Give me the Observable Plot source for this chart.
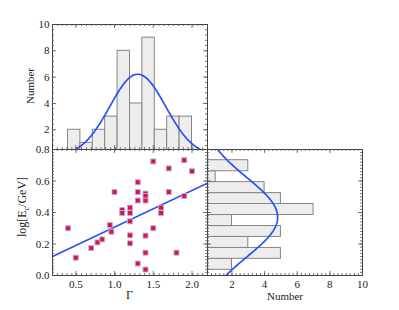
<!DOCTYPE html>
<html>
<head>
<meta charset="utf-8">
<script src="https://cdn.jsdelivr.net/npm/d3@7"></script>
<script src="https://cdn.jsdelivr.net/npm/@observablehq/plot@0.6"></script>
<style>
  body { margin: 0; background: #fff; }
  #chart { position: relative; width: 399px; height: 310px; overflow: hidden; }
  #chart svg { position: absolute; left: 0; top: 0; font-size: 11px; }
  #chart svg text { font-family: 'Liberation Serif', 'Times New Roman', serif; }
</style>
</head>
<body>
<div id="chart"></div>
<script>
// ---------------- data ----------------
const gamma = [0.40, 0.50, 0.70, 0.78, 0.84, 0.94, 0.96, 1.00, 1.10, 1.10,
               1.20, 1.20, 1.20, 1.20, 1.20, 1.30, 1.30, 1.30, 1.30, 1.40,
               1.40, 1.40, 1.40, 1.40, 1.40, 1.50, 1.50, 1.60, 1.60, 1.70,
               1.70, 1.80, 1.90, 1.90, 2.00];
const logEc = [0.300, 0.113, 0.174, 0.210, 0.229, 0.320, 0.278, 0.530, 0.416, 0.397,
               0.431, 0.397, 0.344, 0.255, 0.204, 0.592, 0.530, 0.476, 0.076, 0.520,
               0.505, 0.476, 0.253, 0.145, 0.038, 0.724, 0.300, 0.431, 0.397, 0.680,
               0.530, 0.145, 0.732, 0.505, 0.662];

// histogram of Gamma (top panel)
const gammaBinEdges = [0.40, 0.56, 0.72, 0.88, 1.04, 1.20, 1.36, 1.52, 1.68, 1.84, 2.00];
const gammaCounts   = [2, 1, 2, 3, 8, 4, 9, 2, 3, 3];

// histogram of log Ec (right panel), bottom to top
const ecBinEdges = [0.036, 0.106, 0.175, 0.245, 0.314, 0.384, 0.454, 0.523, 0.593, 0.662, 0.732];
const ecCounts   = [2, 5, 3, 5, 2, 7, 5, 4, 1, 3];

// fitted models
const fitIntercept = 0.074, fitSlope = 0.233;
const gammaFit = {mu: 1.30, sigma: 0.36, amp: 6.22};
const ecFit    = {mu: 0.37, sigma: 0.252, amp: 4.8};

// tick labels
const gammaTicks = [0.5, 1.0, 1.5, 2.0];
const ecTicks = [0.0, 0.2, 0.4, 0.6, 0.8];
const countTicks = [2, 4, 6, 8, 10];

// axis domains
const gammaDomain = [0.2, 2.2];
const ecDomain = [0, 0.8];
const countDomain = [0.5, 10];

// ---------------- layout ----------------
const W = 399, H = 310;
const xL = 52, xM = 207, xR = 362, yT = 24, yM = 149, yB = 275;
const serif = "'Liberation Serif', 'Times New Roman', serif";
const ink = "#222";
const frameColor = "#444";
const tickColor = "#555";
const blue = "#2f4ff2";
const barFill = "#ededed", barStroke = "#858585";

const baseStyle = {background: "transparent", fontFamily: serif, fontSize: "11px", color: ink, overflow: "visible"};
const txt = {fontFamily: serif, fontSize: 11, fill: ink};

const points = gamma.map((g, i) => ({g, e: logEc[i]}));
const gammaBins = gammaCounts.map((c, i) => ({x1: gammaBinEdges[i], x2: gammaBinEdges[i + 1], c}));
const ecBins = ecCounts.map((c, i) => ({y1: ecBinEdges[i], y2: ecBinEdges[i + 1], c}));

const range = (a, b, s) => d3.range(Math.round((b - a) / s) + 1).map(k => +(a + k * s).toFixed(6));
const within = (arr, dom) => arr.filter(v => v > dom[0] + 1e-9 && v < dom[1] - 1e-9);

// inward ticks on all four sides of a panel frame
function edgeTicks(xDom, yDom, innerW, innerH, xMaj, xMin, yMaj, yMin, sides = ["top", "bottom", "left", "right"]) {
  const px = (xDom[1] - xDom[0]) / innerW, py = (yDom[1] - yDom[0]) / innerH;
  const marks = [];
  const add = (vals, len, side) => {
    if (!vals.length) return;
    const o = {stroke: tickColor, strokeWidth: 0.8};
    if (side === "bottom") marks.push(Plot.ruleX(vals, {x: d => d, y1: yDom[0], y2: yDom[0] + len * py, ...o}));
    if (side === "top") marks.push(Plot.ruleX(vals, {x: d => d, y1: yDom[1], y2: yDom[1] - len * py, ...o}));
    if (side === "left") marks.push(Plot.ruleY(vals, {y: d => d, x1: xDom[0], x2: xDom[0] + len * px, ...o}));
    if (side === "right") marks.push(Plot.ruleY(vals, {y: d => d, x1: xDom[1], x2: xDom[1] - len * px, ...o}));
  };
  for (const s of sides) {
    if (s === "top" || s === "bottom") { add(within(xMin, xDom), 2, s); add(within(xMaj, xDom), 4, s); }
    else { add(within(yMin, yDom), 2, s); add(within(yMaj, yDom), 4, s); }
  }
  return marks;
}

const gammaMinor = range(0.2, 2.2, 0.0625);
const ecMinor = range(0, 0.8, 0.02);
const countMinorTop = range(0.4, 10, 0.4);
const countMinorRight = range(0.5, 10, 0.25);
const countMajor = [2, 4, 6, 8, 10];

// model curves
const gaussian = (f, v) => f.amp * Math.exp(-((v - f.mu) ** 2) / (2 * f.sigma ** 2));
const gammaCurve = d3.range(0.2, 2.2001, 0.01).map(x => ({x, y: gaussian(gammaFit, x)}));
const ecCurve = d3.range(0, 0.8001, 0.005).map(y => ({y, x: gaussian(ecFit, y)}));
const fitLine = gammaDomain.map(x => ({x, y: fitIntercept + fitSlope * x}));

const chart = document.getElementById("chart");

// ---------------- top histogram ----------------
const topPlot = Plot.plot({
  width: W, height: H,
  marginLeft: xL, marginRight: W - xM, marginTop: yT, marginBottom: H - yM,
  style: baseStyle,
  x: {domain: gammaDomain, axis: null},
  y: {domain: countDomain},
  marks: [
    Plot.rect(gammaBins, {x1: "x1", x2: "x2", y1: 0, y2: "c", fill: barFill, stroke: barStroke, strokeWidth: 1, clip: true}),
    Plot.line(gammaCurve, {x: "x", y: "y", stroke: blue, strokeWidth: 1.7, clip: true}),
    Plot.frame({stroke: frameColor, strokeWidth: 1}),
    ...edgeTicks(gammaDomain, countDomain, xM - xL, yM - yT, gammaTicks, gammaMinor, countMajor, countMinorTop),
    Plot.axisY({ticks: countTicks, tickSize: 0, tickPadding: 3, label: null, ...txt})
  ]
});
chart.appendChild(topPlot);

// ---------------- scatter ----------------
const scatter = Plot.plot({
  width: W, height: H,
  marginLeft: xL, marginRight: W - xM, marginTop: yM, marginBottom: H - yB,
  style: baseStyle,
  x: {domain: gammaDomain},
  y: {domain: ecDomain},
  marks: [
    Plot.line(fitLine, {x: "x", y: "y", stroke: blue, strokeWidth: 1.7, clip: true}),
    Plot.dot(points, {x: "g", y: "e", symbol: "square", r: 2.8, fill: "#e3122f", stroke: "#a9aefc", strokeWidth: 1}),
    Plot.frame({stroke: frameColor, strokeWidth: 1}),
    ...edgeTicks(gammaDomain, ecDomain, xM - xL, yB - yM, gammaTicks, gammaMinor, ecTicks, ecMinor),
    Plot.axisX({ticks: gammaTicks, tickFormat: d3.format(".1f"), tickSize: 0, tickPadding: 5, label: null, ...txt}),
    Plot.axisY({ticks: ecTicks, tickFormat: d3.format(".1f"), tickSize: 0, tickPadding: 3, label: null, ...txt})
  ]
});
chart.appendChild(scatter);

// ---------------- right histogram ----------------
const rightPlot = Plot.plot({
  width: W, height: H,
  marginLeft: xM, marginRight: W - xR, marginTop: yM, marginBottom: H - yB,
  style: baseStyle,
  x: {domain: countDomain},
  y: {domain: ecDomain, axis: null},
  marks: [
    Plot.rect(ecBins, {y1: "y1", y2: "y2", x1: 0, x2: "c", fill: barFill, stroke: barStroke, strokeWidth: 1, clip: true}),
    Plot.line(ecCurve, {x: "x", y: "y", stroke: blue, strokeWidth: 1.7, clip: true}),
    Plot.frame({stroke: frameColor, strokeWidth: 1}),
    ...edgeTicks(countDomain, ecDomain, xR - xM, yB - yM, countMajor, countMinorRight, ecTicks, ecMinor),
    Plot.axisX({ticks: countTicks, tickSize: 0, tickPadding: 5, label: null, ...txt})
  ]
});
chart.appendChild(rightPlot);

// ---------------- axis titles ----------------
const lab = (svg) => d3.select(svg).append("text")
  .attr("font-family", serif).attr("fill", ink).attr("text-anchor", "middle");

lab(topPlot).attr("font-size", 11).attr("transform", `translate(34,86) rotate(-90)`).text("Number");

const yl = lab(scatter).attr("font-size", 12).attr("transform", `translate(25.5,207) rotate(-90)`);
yl.append("tspan").text("log[E");
yl.append("tspan").attr("font-size", 8).attr("dy", 3).text("c");
yl.append("tspan").attr("dy", -3).text("/GeV]");

lab(scatter).attr("font-size", 12).attr("x", (xL + xM) / 2).attr("y", 299).text("Γ");
lab(rightPlot).attr("font-size", 11).attr("x", 285).attr("y", 299.5).text("Number");
</script>
</body>
</html>
